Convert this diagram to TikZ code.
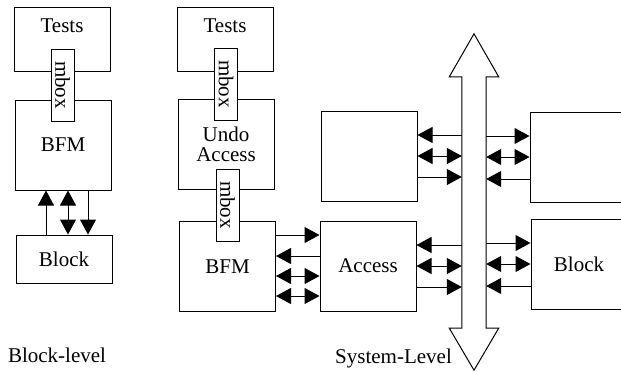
\documentclass[tikz,border=0pt]{standalone}
\usepackage{fontspec}
\setmainfont{Liberation Serif}
\usetikzlibrary{arrows.meta, calc}

\begin{document}
\begin{tikzpicture}[x=1pt, y=-1pt]
    % Define styles for boxes and arrows
    \tikzset{
        every node/.style={font=\fontsize{21}{22}\selectfont},
        box/.style={draw=black, line width=1pt, minimum width=96pt, minimum height=90pt, inner sep=0pt},
        mbox/.style={draw=black, fill=white, line width=1pt, rotate=-90, minimum width=72pt, minimum height=23pt, inner sep=0pt},
        wire/.style={draw=black, line width=1pt},
        arr/.style={wire, -{Triangle[length=15pt, width=16pt]}},
        rarr/.style={wire, {Triangle[length=15pt, width=16pt]}-},
        barr/.style={wire, {Triangle[length=15pt, width=16pt]}-{Triangle[length=15pt, width=16pt]}}
    }
    \useasboundingbox (0,0) rectangle (621,372);
    \clip (0,0) rectangle (621,372);

    % ==========================================
    % BLOCK-LEVEL
    % ==========================================
    \node[box, minimum height=64pt, label={[anchor=north, yshift=-9pt]north:Tests}] (ltests) at (62,39) {};
    \node[box] (lbfm) at (63,145) {BFM};
    \node[box, minimum height=48pt] (lblock) at (64,259) {Block};
    \node[mbox] (lmbox) at (62.5,85) {mbox};

    % arrows between Block and BFM
    \foreach \dx/\tip in {-18/arr, 4/barr, 24/rarr} {
        \draw[\tip] ([xshift=\dx pt]lblock.north) coordinate (foot) -- (foot |- lbfm.south);
    }

    \node (blocklevel) at (57,355) {Block-level};

    % ==========================================
    % SYSTEM-LEVEL
    % ==========================================
    % 1. Test stack
    \node[box, minimum height=64pt, label={[anchor=north, yshift=-9pt]north:Tests}] (mtests) at (225,39) {};
    \node[box, align=center] (undo) at (226,144) {Undo\\[-2pt]Access};
    \node[box] (mbfm) at (227.5,266.5) {BFM};
    \node[mbox] (mbox1) at (226,84) {mbox};
    \node[mbox] (mbox2) at (227.5,205) {mbox};

    % 2. Boxes on both sides of the bus
    \node[box] (lslot) at (369,156) {};
    \node[box] (access) at (368,266) {Access};
    \node[box] (rslot) at (578,157) {};
    \node[box] (rblock) at (579,264) {Block};

    % 3. The bus (double-headed outline arrow)
    \node[minimum width=24pt, minimum height=251pt, inner sep=0pt] (bus) at (474,202.5) {};
    \draw[wire] (bus.north west) -- ++(-12.5,0) -- ($(bus.north)+(0,-43)$) -- ($(bus.north east)+(12.5,0)$)
        -- (bus.north east) -- (bus.south east) -- ++(12.5,0) -- ($(bus.south)+(0,42)$)
        -- ($(bus.south west)+(-12.5,0)$) -- (bus.south west) -- cycle;

    % 4. Arrows BFM <-> Access
    \foreach \dy/\tip in {31.5/arr, 10.5/rarr, -9.5/barr, -29.5/barr} {
        \draw[\tip] ([yshift=\dy pt]mbfm.east) coordinate (tail) -- (tail -| access.west);
    }

    % 5. Arrows left boxes <-> bus
    \foreach \dy/\tip in {21/rarr, 0/barr, -21/arr} {
        \draw[\tip] ([yshift=\dy pt]lslot.east) coordinate (tail) -- (tail -| bus.west);
        \draw[\tip] ([yshift=\dy pt]access.east) coordinate (tail) -- (tail -| bus.west);
    }

    % 6. Arrows bus <-> right boxes
    \foreach \dy/\tip in {21/arr, 0/barr, -22/rarr} {
        \path ([yshift=\dy pt]rslot.west) coordinate (head);
        \draw[\tip] (head -| bus.east) -- (head);
        \path ([yshift=\dy pt]rblock.west) coordinate (head);
        \draw[\tip] (head -| bus.east) -- (head);
    }

    \node (systemlevel) at (393.5,358) {System-Level};
\end{tikzpicture}
\end{document}
